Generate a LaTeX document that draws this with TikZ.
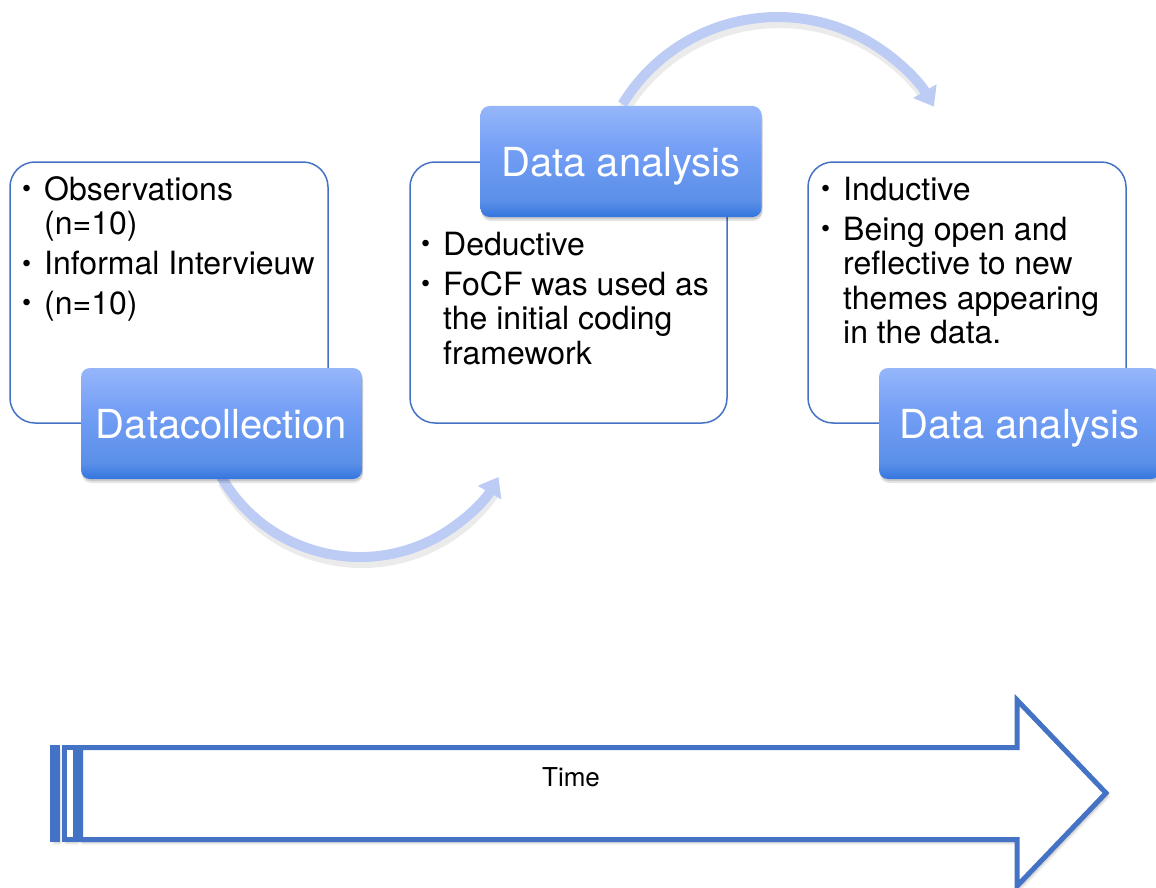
\documentclass[tikz,border=0pt]{standalone}
\usepackage{fontspec}
\setmainfont{TeX Gyre Heros}
\usetikzlibrary{arrows.meta,shadows.blur}
\definecolor{outl}{HTML}{4472C4}
\definecolor{arcc}{HTML}{BCCCF4}
\definecolor{gtop}{HTML}{96B6FA}
\definecolor{gmid}{HTML}{739EF5}
\definecolor{glow}{HTML}{5A8FE8}
\definecolor{gbot}{HTML}{3475DE}
\pgfdeclareverticalshading{titleshade}{100bp}{color(0bp)=(gbot); color(25bp)=(gbot); color(32bp)=(glow); color(55bp)=(gmid); color(75bp)=(gtop); color(100bp)=(gtop)}
\newcommand{\bul}{\makebox[22pt][l]{\fontsize{26}{26}\selectfont\raisebox{2.5pt}{\textbullet}}}
\tikzset{
  whitebox/.style={draw=outl, line width=1.5pt, rounded corners=25pt, fill=white,
    minimum height=261pt, inner sep=0pt},
  titlebox/.style={rounded corners=9pt, shading=titleshade, shading angle=0,
    minimum width=281pt, minimum height=111pt, inner sep=0pt,
    text=white, font=\fontsize{40}{40}\selectfont, text height=29pt, text depth=0pt,
    preaction={fill=black, opacity=0.10, transform canvas={xshift=1pt, yshift=-4pt}},
    preaction={fill=black, opacity=0.12, transform canvas={xshift=1pt, yshift=-2pt}}},
  bullettext/.style={anchor=base west, inner sep=0pt, font=\fontsize{32}{34.5}\selectfont},
  curvearrow/.style={draw=arcc, line width=10pt, -{Triangle[width=26pt,length=18pt]}},
  curveshadow/.style={draw=black, opacity=0.08, line width=12pt},
  arrowline/.style={draw=outl, line width=5pt, fill=white, line join=miter,
    blur shadow={shadow xshift=2pt, shadow yshift=-3pt, shadow blur radius=3pt, shadow opacity=30}}
}
\begin{document}
\begin{tikzpicture}[x=1pt,y=-1pt]
\useasboundingbox (0,0) rectangle (1156,888);

% white content boxes
\node[whitebox, minimum width=318pt] (b1) at (169,292.5) {};
\node[whitebox, minimum width=317pt] (b2) at (568.5,292.5) {};
\node[whitebox, minimum width=318pt] (b3) at (967,292.5) {};

% bullet texts
\node[bullettext] (t1) at (22,200) {\begin{tabular}[t]{@{}l@{}l@{}}
\bul & Observations\\
 & (n=10)\\[5.5pt]
\bul & Informal Intervieuw\\[5pt]
\bul & (n=10)
\end{tabular}};
\node[bullettext] (t2) at (421,255) {\begin{tabular}[t]{@{}l@{}l@{}}
\bul & Deductive\\[5.5pt]
\bul & FoCF was used as\\
 & the initial coding\\
 & framework
\end{tabular}};
\node[bullettext] (t3) at (821,200) {\begin{tabular}[t]{@{}l@{}l@{}}
\bul & Inductive\\[5.5pt]
\bul & Being open and\\
 & reflective to new\\
 & themes appearing\\
 & in the data.
\end{tabular}};

% curved arrows
\coordinate (c1s) at (221.4,477);
\coordinate (c2s) at (622.5,104.2);
\path[curveshadow] ([shift={(2,5)}]c1s) arc[start angle=150, end angle=33, radius=160];
\path[curveshadow] ([shift={(2,5)}]c2s) arc[start angle=211.3, end angle=325, radius=181.4];
\draw[curvearrow] (c1s) arc[start angle=150, end angle=30, radius=160];
\draw[curvearrow] (c2s) arc[start angle=211.3, end angle=329.6, radius=181.4];

% title boxes
\node[titlebox] (h1) at (221.5,423.5) {Datacollection};
\node[titlebox] (h2) at (621,161.5) {Data analysis};
\node[titlebox] (h3) at (1019.5,423.5) {Data analysis};

% time arrow
\path[arrowline] (52.5,747.5) rectangle (57.8,839.5);
\path[arrowline] (64.2,747.5) rectangle (75.2,839.5);
\path[arrowline] (80.5,747.5) -- (1017,747.5) -- (1017,700) -- (1106,793)
  -- (1017,886) -- (1017,839.5) -- (80.5,839.5) -- cycle;
\node[anchor=base, inner sep=0pt, font=\fontsize{26}{26}\selectfont] (time) at (571,786) {Time};
\end{tikzpicture}
\end{document}
